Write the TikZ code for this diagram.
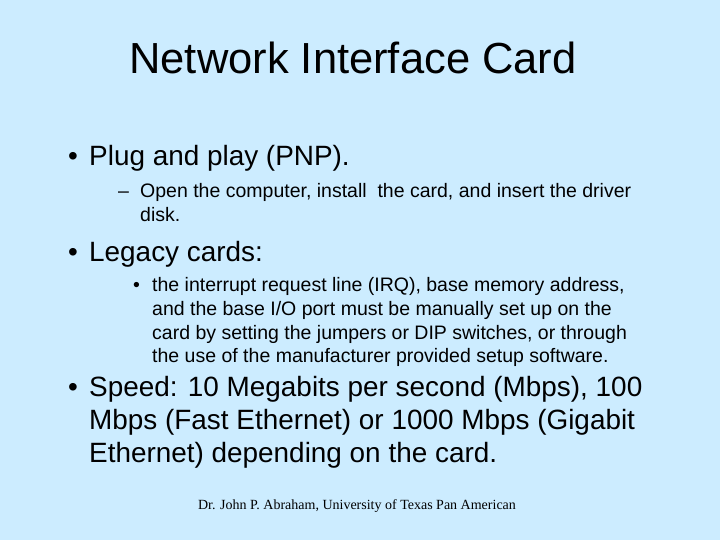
\documentclass[tikz,border=0pt]{standalone}
\usepackage{fontspec}
\setmainfont{Liberation Sans}
\newfontfamily\tms{Liberation Serif}
\definecolor{bg}{RGB}{204,236,255}
\begin{document}
\begin{tikzpicture}[x=1pt,y=-1pt,
  big/.style={anchor=base west,inner sep=0pt,font=\fontsize{27.9}{32}\selectfont},
  small/.style={anchor=base west,inner sep=0pt,font=\fontsize{19.5}{22}\selectfont}]
\fill[bg] (0,0) rectangle (720,540);
\useasboundingbox (0,0) rectangle (720,540);
\node[inner sep=0pt,anchor=base,font=\fontsize{43.5}{48}\selectfont] (title) at (353,74) {Network Interface Card};
\node[big] (b1m) at (68,166) {•};
\node[big] (b1) at (89,166) {Plug and play (PNP).};
\node[small] (d1m) at (118,198) {–};
\node[small] (d1a) at (140,198) {Open the computer, install\ \ the card, and insert the driver};
\node[small] (d1b) at (140,222) {disk.};
\node[big] (b2m) at (68,261) {•};
\node[big] (b2) at (89,261) {Legacy cards:};
\node[small] (s1m) at (133,291) {•};
\node[small] (s1) at (152,291) {the interrupt request line (IRQ), base memory address,};
\node[small] (s2) at (152,315) {and the base I/O port must be manually set up on the};
\node[small] (s3) at (152,339) {card by setting the jumpers or DIP switches, or through};
\node[small] (s4) at (152,362) {the use of the manufacturer provided setup software.};
\node[big] (b3m) at (68,396) {•};
\node[big] (b3a) at (89,396) {Speed: 10 Megabits per second (Mbps), 100};
\node[big] (b3b) at (89,429) {Mbps (Fast Ethernet) or 1000 Mbps (Gigabit};
\node[big] (b3c) at (89,462) {Ethernet) depending on the card.};
\node[inner sep=0pt,anchor=base,font=\tms\fontsize{14}{16}\selectfont] (foot) at (357,509) {Dr. John P. Abraham, University of Texas Pan American};
\end{tikzpicture}
\end{document}
